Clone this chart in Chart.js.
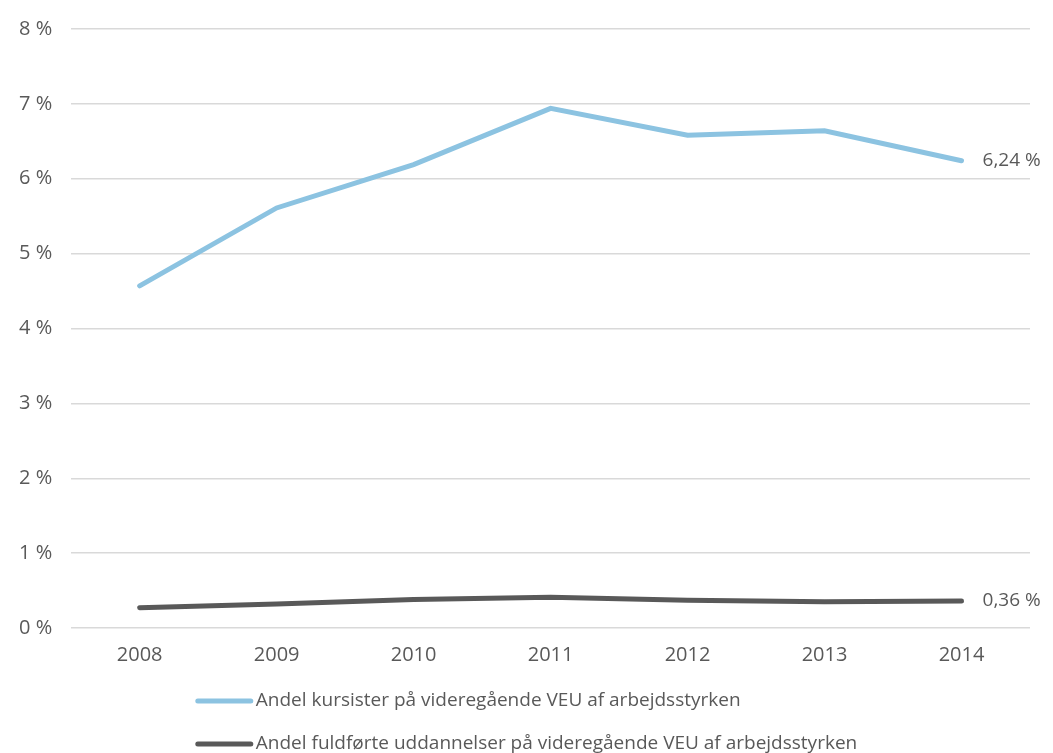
<!DOCTYPE html>
<html>
<head>
<meta charset="utf-8">
<script src="https://cdn.jsdelivr.net/npm/chart.js@4"></script>
<style>
  html, body { margin: 0; padding: 0; background: #fff; }
  #wrap { width: 1053px; height: 753px; }
</style>
</head>
<body>
<div id="wrap"><canvas id="chart"></canvas></div>
<script>
const years = ["2008", "2009", "2010", "2011", "2012", "2013", "2014"];
const kursister = [4.57, 5.61, 6.19, 6.94, 6.58, 6.64, 6.24];
const fuldforte = [0.27, 0.32, 0.38, 0.41, 0.37, 0.35, 0.36];
const seriesNames = [
  "Andel kursister på videregående VEU af arbejdsstyrken",
  "Andel fuldførte uddannelser på videregående VEU af arbejdsstyrken"
];

const textColor = "#595959";
const fontFamily = "'Open Sans', 'Noto Sans', sans-serif";

// label for last point of each line
const endLabels = {
  id: "endLabels",
  afterDatasetsDraw(chart) {
    const ctx = chart.ctx;
    ctx.save();
    ctx.font = "19px " + fontFamily;
    ctx.fillStyle = textColor;
    ctx.textBaseline = "middle";
    ctx.textAlign = "left";
    chart.data.datasets.forEach((ds, i) => {
      const meta = chart.getDatasetMeta(i);
      const last = meta.data[meta.data.length - 1];
      const v = ds.data[ds.data.length - 1];
      ctx.fillText(v.toFixed(2).replace(".", ",") + " %", last.x + 21, last.y);
    });
    ctx.restore();
  }
};

// stacked legend, rows left-aligned on the widest item
const stackedLegend = {
  id: "stackedLegend",
  afterDraw(chart) {
    const ctx = chart.ctx;
    ctx.save();
    ctx.font = "19px " + fontFamily;
    const lineLen = 60;
    const widths = chart.data.datasets.map(ds => lineLen + ctx.measureText(ds.label).width);
    const x0 = (chart.width - Math.max(...widths)) / 2;
    chart.data.datasets.forEach((ds, i) => {
      const y = 701 + i * 43;
      ctx.strokeStyle = ds.borderColor;
      ctx.lineWidth = 5;
      ctx.lineCap = "round";
      ctx.beginPath();
      ctx.moveTo(x0 + 2, y);
      ctx.lineTo(x0 + lineLen - 5, y);
      ctx.stroke();
      ctx.fillStyle = textColor;
      ctx.textBaseline = "middle";
      ctx.fillText(ds.label, x0 + lineLen, y);
    });
    ctx.restore();
  }
};

new Chart(document.getElementById("chart"), {
  type: "line",
  data: {
    labels: years,
    datasets: [
      {
        label: seriesNames[0],
        data: kursister,
        borderColor: "#8cc3e1",
        borderWidth: 5,
        borderCapStyle: "round",
        pointRadius: 0,
        tension: 0
      },
      {
        label: seriesNames[1],
        data: fuldforte,
        borderColor: "#595959",
        borderWidth: 5,
        borderCapStyle: "round",
        pointRadius: 0,
        tension: 0
      }
    ]
  },
  options: {
    responsive: true,
    maintainAspectRatio: false,
    animation: false,
    layout: { padding: { top: 0, right: 23, bottom: 71, left: 0 } },
    plugins: {
      legend: { display: false },
      tooltip: { enabled: false }
    },
    scales: {
      x: {
        offset: true,
        grid: { display: false, drawTicks: false },
        border: { display: false },
        ticks: { color: textColor, font: { family: fontFamily, size: 20 }, padding: 15 }
      },
      y: {
        min: 0,
        max: 8,
        grid: { color: "#d9d9d9", lineWidth: 1.5, drawTicks: false },
        border: { display: false },
        ticks: {
          stepSize: 1,
          color: textColor,
          font: { family: fontFamily, size: 20, lineHeight: 1 },
          padding: 19,
          callback: v => v + " %"
        }
      }
    }
  },
  plugins: [endLabels, stackedLegend]
});
</script>
</body>
</html>
